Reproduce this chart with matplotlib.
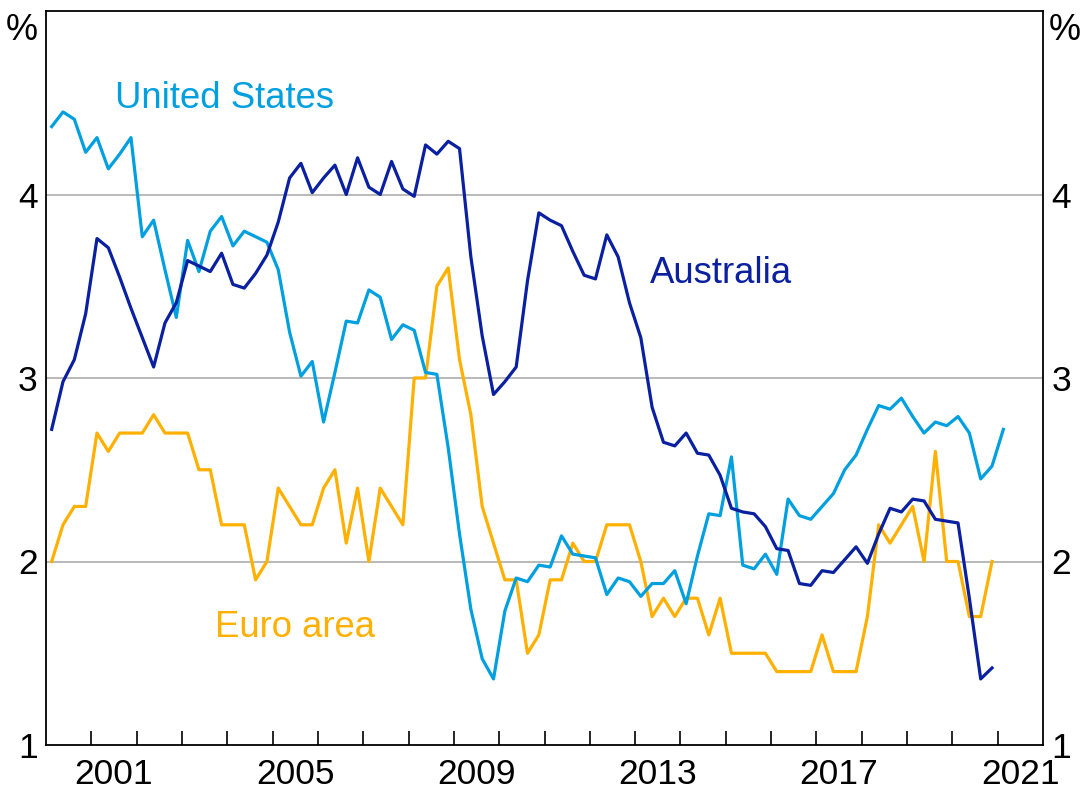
import numpy as np
import matplotlib
matplotlib.use("Agg")
import matplotlib.pyplot as plt
from matplotlib.ticker import FixedLocator, NullFormatter, FixedFormatter

# ---- data (quarterly, starting 2000 Q1) ----
start_year = 2000
us = [4.37, 4.45, 4.41, 4.23, 4.31, 4.14, 4.22, 4.31, 3.77, 3.86,
      3.59, 3.33, 3.75, 3.58, 3.80, 3.88, 3.72, 3.80, 3.77, 3.74,
      3.59, 3.25, 3.01, 3.09, 2.76, 3.03, 3.31, 3.30, 3.48, 3.44,
      3.21, 3.29, 3.26, 3.03, 3.02, 2.62, 2.15, 1.74, 1.47, 1.36,
      1.73, 1.91, 1.89, 1.98, 1.97, 2.14, 2.04, 2.03, 2.02, 1.82,
      1.91, 1.89, 1.81, 1.88, 1.88, 1.95, 1.77, 2.03, 2.26, 2.25,
      2.57, 1.98, 1.96, 2.04, 1.93, 2.34, 2.25, 2.23, 2.30, 2.37,
      2.50, 2.58, 2.72, 2.85, 2.83, 2.89, 2.79, 2.70, 2.76, 2.74,
      2.79, 2.70, 2.45, 2.52, 2.72]
australia = [2.72, 2.98, 3.10, 3.35, 3.76, 3.71, 3.55, 3.38, 3.22, 3.06,
             3.30, 3.41, 3.64, 3.61, 3.58, 3.68, 3.51, 3.49, 3.57, 3.67,
             3.85, 4.09, 4.17, 4.01, 4.09, 4.16, 4.00, 4.20, 4.04, 4.00,
             4.18, 4.03, 3.99, 4.27, 4.22, 4.29, 4.25, 3.66, 3.23, 2.91,
             2.98, 3.06, 3.53, 3.90, 3.86, 3.83, 3.69, 3.56, 3.54, 3.78,
             3.66, 3.41, 3.22, 2.84, 2.65, 2.63, 2.70, 2.59, 2.58, 2.47,
             2.29, 2.27, 2.26, 2.19, 2.07, 2.06, 1.88, 1.87, 1.95, 1.94,
             2.01, 2.08, 1.99, 2.15, 2.29, 2.27, 2.34, 2.33, 2.23, 2.22,
             2.21, 1.80, 1.36, 1.42]
euro = [2.0, 2.2, 2.3, 2.3, 2.7, 2.6, 2.7, 2.7, 2.7, 2.8,
        2.7, 2.7, 2.7, 2.5, 2.5, 2.2, 2.2, 2.2, 1.9, 2.0,
        2.4, 2.3, 2.2, 2.2, 2.4, 2.5, 2.1, 2.4, 2.0, 2.4,
        2.3, 2.2, 3.0, 3.0, 3.5, 3.6, 3.1, 2.8, 2.3, 2.1,
        1.9, 1.9, 1.5, 1.6, 1.9, 1.9, 2.1, 2.0, 2.0, 2.2,
        2.2, 2.2, 2.0, 1.7, 1.8, 1.7, 1.8, 1.8, 1.6, 1.8,
        1.5, 1.5, 1.5, 1.5, 1.4, 1.4, 1.4, 1.4, 1.6, 1.4,
        1.4, 1.4, 1.7, 2.2, 2.1, 2.2, 2.3, 2.0, 2.6, 2.0,
        2.0, 1.7, 1.7, 2.0]

labelled_years = [2001, 2005, 2009, 2013, 2017, 2021]
y_ticks = [1, 2, 3, 4]

def qx(series):
    return start_year + 0.125 + 0.25 * np.arange(len(series))

c_us = "#00A0E0"
c_au = "#0A20A0"
c_eu = "#FFB000"

plt.rcParams['font.family'] = ['Liberation Sans', 'DejaVu Sans']

fig = plt.figure(figsize=(10.81, 7.98), dpi=100)
ax = fig.add_axes([46/1081, 1-745/798, (1043-46)/1081, (745-11)/798])

for yv in [2, 3, 4]:
    ax.axhline(yv, color="#b3b3b3", lw=1.3, zorder=1)

lw = 2.3
ax.plot(qx(us), us, color=c_us, lw=lw, zorder=3)
ax.plot(qx(euro), euro, color=c_eu, lw=lw, zorder=2)
ax.plot(qx(australia), australia, color=c_au, lw=lw, zorder=4)

ax.set_xlim(2000, 2022)
ax.set_ylim(1, 5)

# x ticks: marks at year boundaries, labels centred in the year
ax.xaxis.set_major_locator(FixedLocator(list(range(2001, 2022))))
ax.xaxis.set_major_formatter(NullFormatter())
ax.xaxis.set_minor_locator(FixedLocator([y + 0.5 for y in labelled_years]))
ax.xaxis.set_minor_formatter(FixedFormatter([str(y) for y in labelled_years]))
ax.tick_params(axis='x', which='major', direction='in', length=10, width=1.2, color='black')
ax.tick_params(axis='x', which='minor', length=0, pad=9, labelsize=25.5)

ax.set_yticks(y_ticks)
ax.tick_params(axis='y', which='both', length=0, labelsize=25.5, pad=6,
               left=False, right=False, labelleft=True, labelright=True)

for s in ax.spines.values():
    s.set_color('black')
    s.set_linewidth(1.3)

# % labels
fig.text(38/1081, 1-40/798, "%", ha='right', va='baseline', fontsize=26)
fig.text(1049/1081, 1-40/798, "%", ha='left', va='baseline', fontsize=26)

# series labels
ax.text(2001.52, 4.47, "United States", color=c_us, fontsize=26.3, ha='left', va='baseline')
ax.text(2013.33, 3.517, "Australia", color=c_au, fontsize=26.3, ha='left', va='baseline')
ax.text(2003.73, 1.587, "Euro area", color=c_eu, fontsize=26.3, ha='left', va='baseline')

fig.savefig("out.png", dpi=100)
